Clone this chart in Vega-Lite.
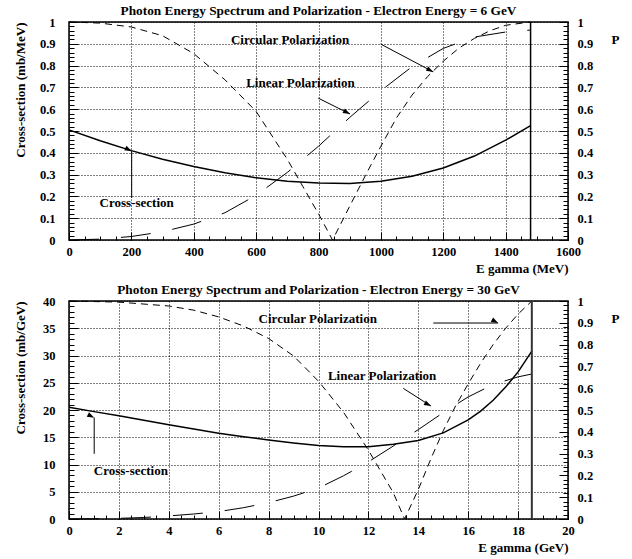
{
  "$schema": "https://vega.github.io/schema/vega-lite/v6.json",
  "padding": {"left": 13, "top": 2, "right": 0, "bottom": 0},
  "background": "white",
  "spacing": 5,
  "config": {
    "font": "Liberation Serif",
    "view": {"stroke": "black", "strokeWidth": 1.5},
    "axis": {
      "labelFont": "Liberation Serif", "labelFontWeight": "bold", "labelFontSize": 12.5, "labelColor": "black",
      "titleFont": "Liberation Serif", "titleFontWeight": "bold", "titleFontSize": 13, "titleColor": "black",
      "tickColor": "black", "tickWidth": 1, "domain": false,
      "gridColor": "black", "gridOpacity": 1, "gridWidth": 1,
      "labelFlush": false, "labelOverlap": false
    },
    "title": {"font": "Liberation Serif", "fontWeight": "bold", "fontSize": 13.3, "color": "black", "anchor": "middle", "offset": -1}
  },
  "datasets": {
    "cs6": [
      {"E": 0, "v": 0.505}, {"E": 100, "v": 0.455}, {"E": 200, "v": 0.41}, {"E": 300, "v": 0.37},
      {"E": 400, "v": 0.337}, {"E": 500, "v": 0.308}, {"E": 600, "v": 0.285}, {"E": 700, "v": 0.27},
      {"E": 800, "v": 0.261}, {"E": 900, "v": 0.259}, {"E": 1000, "v": 0.27}, {"E": 1100, "v": 0.292},
      {"E": 1200, "v": 0.33}, {"E": 1300, "v": 0.385}, {"E": 1400, "v": 0.458}, {"E": 1480, "v": 0.525}
    ],
    "circ6": [
      {"E": 0, "P": 1.0}, {"E": 100, "P": 0.995}, {"E": 200, "P": 0.977}, {"E": 300, "P": 0.937},
      {"E": 400, "P": 0.855}, {"E": 500, "P": 0.735}, {"E": 600, "P": 0.59}, {"E": 700, "P": 0.37},
      {"E": 750, "P": 0.245}, {"E": 800, "P": 0.12}, {"E": 845, "P": 0.0}, {"E": 900, "P": 0.155},
      {"E": 950, "P": 0.295}, {"E": 1000, "P": 0.43}, {"E": 1050, "P": 0.56}, {"E": 1100, "P": 0.665},
      {"E": 1150, "P": 0.75}, {"E": 1200, "P": 0.82}, {"E": 1250, "P": 0.88}, {"E": 1300, "P": 0.925},
      {"E": 1350, "P": 0.96}, {"E": 1400, "P": 0.985}, {"E": 1480, "P": 1.0}
    ],
    "lin6": [
      {"E": 0, "P": 0.0}, {"E": 100, "P": 0.004}, {"E": 200, "P": 0.016}, {"E": 300, "P": 0.038},
      {"E": 400, "P": 0.073}, {"E": 500, "P": 0.125}, {"E": 600, "P": 0.205}, {"E": 700, "P": 0.31},
      {"E": 800, "P": 0.43}, {"E": 900, "P": 0.562}, {"E": 1000, "P": 0.685}, {"E": 1100, "P": 0.795},
      {"E": 1200, "P": 0.879}, {"E": 1300, "P": 0.931}, {"E": 1400, "P": 0.954}, {"E": 1480, "P": 0.963}
    ],
    "edge6": [{"E": 1480, "lo": 0, "hi": 1}],
    "ann6": [
      {"label": "Circular Polarization", "E": 709, "P": 0.919},
      {"label": "Linear Polarization", "E": 742, "P": 0.72},
      {"label": "Cross-section", "E": 217, "P": 0.17}
    ],
    "arr6": [
      {"name": "circ", "E0": 999, "P0": 0.899, "E1": 1168, "P1": 0.771},
      {"name": "lin", "E0": 799, "P0": 0.651, "E1": 901, "P1": 0.578},
      {"name": "cs", "E0": 201, "P0": 0.193, "E1": 201, "P1": 0.407}
    ],
    "cs30": [
      {"E": 0, "v": 20.5}, {"E": 1, "v": 19.7}, {"E": 2, "v": 18.95}, {"E": 3, "v": 18.1},
      {"E": 4, "v": 17.3}, {"E": 5, "v": 16.5}, {"E": 6, "v": 15.75}, {"E": 7, "v": 15.1},
      {"E": 8, "v": 14.5}, {"E": 9, "v": 13.95}, {"E": 10, "v": 13.5}, {"E": 11, "v": 13.25},
      {"E": 12, "v": 13.25}, {"E": 13, "v": 13.7}, {"E": 14, "v": 14.4}, {"E": 15, "v": 15.8},
      {"E": 16, "v": 18.2}, {"E": 16.5, "v": 19.8}, {"E": 17, "v": 21.8}, {"E": 17.5, "v": 24.2},
      {"E": 18, "v": 27.0}, {"E": 18.55, "v": 30.8}
    ],
    "circ30": [
      {"E": 0, "P": 1.0}, {"E": 2, "P": 0.995}, {"E": 4, "P": 0.977}, {"E": 5, "P": 0.958},
      {"E": 6, "P": 0.927}, {"E": 7, "P": 0.885}, {"E": 8, "P": 0.828}, {"E": 9, "P": 0.748},
      {"E": 10, "P": 0.632}, {"E": 11, "P": 0.49}, {"E": 12, "P": 0.316}, {"E": 13, "P": 0.12},
      {"E": 13.45, "P": 0.0}, {"E": 14, "P": 0.135}, {"E": 14.5, "P": 0.275}, {"E": 15, "P": 0.405},
      {"E": 15.5, "P": 0.52}, {"E": 16, "P": 0.62}, {"E": 16.5, "P": 0.715}, {"E": 17, "P": 0.8},
      {"E": 17.5, "P": 0.875}, {"E": 18, "P": 0.94}, {"E": 18.55, "P": 1.0}
    ],
    "lin30": [
      {"E": 0, "P": 0.0}, {"E": 1, "P": 0.001}, {"E": 2, "P": 0.003}, {"E": 3, "P": 0.007},
      {"E": 4, "P": 0.014}, {"E": 5, "P": 0.023}, {"E": 6, "P": 0.034}, {"E": 7, "P": 0.052},
      {"E": 8, "P": 0.075}, {"E": 9, "P": 0.105}, {"E": 10, "P": 0.142}, {"E": 11, "P": 0.198},
      {"E": 12, "P": 0.262}, {"E": 13, "P": 0.335}, {"E": 14, "P": 0.41}, {"E": 15, "P": 0.488},
      {"E": 16, "P": 0.56}, {"E": 17, "P": 0.617}, {"E": 18, "P": 0.652}, {"E": 18.55, "P": 0.665}
    ],
    "edge30": [{"E": 18.55, "lo": 0, "hi": 1}],
    "ann30": [
      {"label": "Circular Polarization", "E": 9.97, "P": 0.919},
      {"label": "Linear Polarization", "E": 12.55, "P": 0.656},
      {"label": "Cross-section", "E": 2.48, "P": 0.221}
    ],
    "arr30": [
      {"name": "circ", "E0": 14.6, "P0": 0.899, "E1": 17.2, "P1": 0.899},
      {"name": "lin", "E0": 13.4, "P0": 0.599, "E1": 14.51, "P1": 0.518},
      {"name": "cs", "E0": 1.01, "P0": 0.299, "E1": 1.01, "P1": 0.465}
    ]
  },
  "vconcat": [
    {
      "width": 499, "height": 218,
      "title": {"text": "Photon Energy Spectrum and Polarization - Electron Energy = 6 GeV"},
      "resolve": {"scale": {"y": "independent"}, "axis": {"x": "independent", "y": "independent"}},
      "layer": [
        {
          "data": {"name": "cs6"},
          "mark": {"type": "line", "color": "black", "strokeWidth": 1.5},
          "encoding": {
            "x": {"field": "E", "type": "quantitative", "scale": {"domain": [0, 1600], "nice": false, "zero": false},
              "axis": {"orient": "bottom", "title": "E gamma (MeV)", "tickCount": 8, "format": "d", "grid": true, "gridDash": [1, 2],
                "ticks": true, "tickSize": 8, "offset": -8, "labelPadding": 5, "titleX": 499, "titleY": 36, "titleAlign": "right", "titleBaseline": "middle"}},
            "y": {"field": "v", "type": "quantitative", "scale": {"domain": [0, 1], "nice": false},
              "axis": {"orient": "left", "title": "Cross-section (mb/MeV)", "tickCount": 10, "format": "~f", "grid": true, "gridDash": [1, 2],
                "ticks": true, "tickSize": 9, "offset": -9, "labelPadding": 14, "titleX": -58, "titleY": 0, "titleAlign": "right", "titleBaseline": "middle", "titleAngle": -90}}
          }
        },
        {
          "data": {"name": "cs6"},
          "mark": {"type": "line", "opacity": 0},
          "encoding": {
            "x": {"field": "E", "type": "quantitative", "scale": {"domain": [0, 1600], "nice": false, "zero": false},
              "axis": {"orient": "bottom", "title": null, "tickCount": 32, "labels": false, "grid": false, "ticks": true, "tickSize": 4, "offset": -4}},
            "y": {"field": "v", "type": "quantitative", "scale": {"domain": [0, 1], "nice": false},
              "axis": {"orient": "left", "title": null, "tickCount": 50, "labels": false, "grid": false, "ticks": true, "tickSize": 5, "offset": -5}}
          }
        },
        {
          "data": {"name": "circ6"},
          "mark": {"type": "line", "color": "black", "strokeWidth": 1, "strokeDash": [7, 5]},
          "encoding": {
            "x": {"field": "E", "type": "quantitative", "axis": null},
            "y": {"field": "P", "type": "quantitative", "scale": {"domain": [0, 1], "nice": false},
              "axis": {"orient": "right", "title": "P", "tickCount": 10, "format": "~f", "grid": false,
                "ticks": true, "tickSize": 9, "offset": -9, "labelPadding": 9, "titleAngle": 0, "titleX": 52, "titleY": 17, "titleAlign": "left", "titleBaseline": "middle"}}
          }
        },
        {
          "data": {"name": "lin6"},
          "mark": {"type": "line", "color": "black", "strokeWidth": 1, "strokeDash": [30, 22]},
          "encoding": {
            "x": {"field": "E", "type": "quantitative", "axis": null},
            "y": {"field": "P", "type": "quantitative", "scale": {"domain": [0, 1], "nice": false},
              "axis": {"orient": "right", "title": null, "tickCount": 50, "labels": false, "grid": false, "ticks": true, "tickSize": 5, "offset": -5}}
          }
        },
        {
          "data": {"name": "edge6"},
          "mark": {"type": "rule", "color": "black", "strokeWidth": 1.5},
          "encoding": {
            "x": {"field": "E", "type": "quantitative", "axis": null},
            "y": {"field": "lo", "type": "quantitative", "scale": {"domain": [0, 1], "nice": false}, "axis": null},
            "y2": {"field": "hi"}
          }
        },
        {
          "data": {"name": "ann6"},
          "mark": {"type": "text", "font": "Liberation Serif", "fontWeight": "bold", "fontSize": 13, "align": "center", "baseline": "middle", "color": "black"},
          "encoding": {
            "x": {"field": "E", "type": "quantitative", "axis": null},
            "y": {"field": "P", "type": "quantitative", "scale": {"domain": [0, 1], "nice": false}, "axis": null},
            "text": {"field": "label"}
          }
        },
        {
          "data": {"name": "arr6"},
          "mark": {"type": "rule", "color": "black", "strokeWidth": 1},
          "encoding": {
            "x": {"field": "E0", "type": "quantitative", "axis": null},
            "y": {"field": "P0", "type": "quantitative", "scale": {"domain": [0, 1], "nice": false}, "axis": null},
            "x2": {"field": "E1"},
            "y2": {"field": "P1"}
          }
        },
        {
          "data": {"name": "arr6"},
          "mark": {"type": "point", "shape": "M0,0L-0.35,1L0.35,1Z", "filled": true, "color": "black", "opacity": 1, "size": 200},
          "encoding": {
            "x": {"field": "E1", "type": "quantitative", "axis": null},
            "y": {"field": "P1", "type": "quantitative", "scale": {"domain": [0, 1], "nice": false}, "axis": null},
            "angle": {"field": "name", "type": "ordinal", "scale": {"domain": ["circ", "lin", "cs"], "range": [118, 117, 0]}, "legend": null}
          }
        }
      ]
    },
    {
      "width": 499, "height": 218,
      "title": {"text": "Photon Energy Spectrum and Polarization - Electron Energy = 30 GeV"},
      "resolve": {"scale": {"y": "independent"}, "axis": {"x": "independent", "y": "independent"}},
      "layer": [
        {
          "data": {"name": "cs30"},
          "mark": {"type": "line", "color": "black", "strokeWidth": 1.5},
          "encoding": {
            "x": {"field": "E", "type": "quantitative", "scale": {"domain": [0, 20], "nice": false, "zero": false},
              "axis": {"orient": "bottom", "title": "E gamma (GeV)", "tickCount": 10, "format": "d", "grid": true, "gridDash": [1, 2],
                "ticks": true, "tickSize": 8, "offset": -8, "labelPadding": 5, "titleX": 499, "titleY": 36, "titleAlign": "right", "titleBaseline": "middle"}},
            "y": {"field": "v", "type": "quantitative", "scale": {"domain": [0, 40], "nice": false},
              "axis": {"orient": "left", "title": "Cross-section (mb/GeV)", "tickCount": 8, "format": "d", "grid": true, "gridDash": [1, 2],
                "ticks": true, "tickSize": 9, "offset": -9, "labelPadding": 14, "titleX": -58, "titleY": 0, "titleAlign": "right", "titleBaseline": "middle", "titleAngle": -90}}
          }
        },
        {
          "data": {"name": "cs30"},
          "mark": {"type": "line", "opacity": 0},
          "encoding": {
            "x": {"field": "E", "type": "quantitative", "scale": {"domain": [0, 20], "nice": false, "zero": false},
              "axis": {"orient": "bottom", "title": null, "tickCount": 40, "labels": false, "grid": false, "ticks": true, "tickSize": 4, "offset": -4}},
            "y": {"field": "v", "type": "quantitative", "scale": {"domain": [0, 40], "nice": false},
              "axis": {"orient": "left", "title": null, "tickCount": 40, "labels": false, "grid": false, "ticks": true, "tickSize": 5, "offset": -5}}
          }
        },
        {
          "data": {"name": "circ30"},
          "mark": {"type": "line", "color": "black", "strokeWidth": 1, "strokeDash": [7, 5]},
          "encoding": {
            "x": {"field": "E", "type": "quantitative", "axis": null},
            "y": {"field": "P", "type": "quantitative", "scale": {"domain": [0, 1], "nice": false},
              "axis": {"orient": "right", "title": "P", "tickCount": 10, "format": "~f", "grid": false,
                "ticks": true, "tickSize": 9, "offset": -9, "labelPadding": 9, "titleAngle": 0, "titleX": 52, "titleY": 17, "titleAlign": "left", "titleBaseline": "middle"}}
          }
        },
        {
          "data": {"name": "lin30"},
          "mark": {"type": "line", "color": "black", "strokeWidth": 1, "strokeDash": [30, 22]},
          "encoding": {
            "x": {"field": "E", "type": "quantitative", "axis": null},
            "y": {"field": "P", "type": "quantitative", "scale": {"domain": [0, 1], "nice": false},
              "axis": {"orient": "right", "title": null, "tickCount": 50, "labels": false, "grid": false, "ticks": true, "tickSize": 5, "offset": -5}}
          }
        },
        {
          "data": {"name": "edge30"},
          "mark": {"type": "rule", "color": "#333333", "strokeWidth": 2},
          "encoding": {
            "x": {"field": "E", "type": "quantitative", "axis": null},
            "y": {"field": "lo", "type": "quantitative", "scale": {"domain": [0, 1], "nice": false}, "axis": null},
            "y2": {"field": "hi"}
          }
        },
        {
          "data": {"name": "ann30"},
          "mark": {"type": "text", "font": "Liberation Serif", "fontWeight": "bold", "fontSize": 13, "align": "center", "baseline": "middle", "color": "black"},
          "encoding": {
            "x": {"field": "E", "type": "quantitative", "axis": null},
            "y": {"field": "P", "type": "quantitative", "scale": {"domain": [0, 1], "nice": false}, "axis": null},
            "text": {"field": "label"}
          }
        },
        {
          "data": {"name": "arr30"},
          "mark": {"type": "rule", "color": "black", "strokeWidth": 1},
          "encoding": {
            "x": {"field": "E0", "type": "quantitative", "axis": null},
            "y": {"field": "P0", "type": "quantitative", "scale": {"domain": [0, 1], "nice": false}, "axis": null},
            "x2": {"field": "E1"},
            "y2": {"field": "P1"}
          }
        },
        {
          "data": {"name": "arr30"},
          "mark": {"type": "point", "shape": "M0,0L-0.35,1L0.35,1Z", "filled": true, "color": "black", "opacity": 1, "size": 200},
          "encoding": {
            "x": {"field": "E1", "type": "quantitative", "axis": null},
            "y": {"field": "P1", "type": "quantitative", "scale": {"domain": [0, 1], "nice": false}, "axis": null},
            "angle": {"field": "name", "type": "ordinal", "scale": {"domain": ["circ", "lin", "cs"], "range": [90, 122.6, 0]}, "legend": null}
          }
        }
      ]
    }
  ]
}
